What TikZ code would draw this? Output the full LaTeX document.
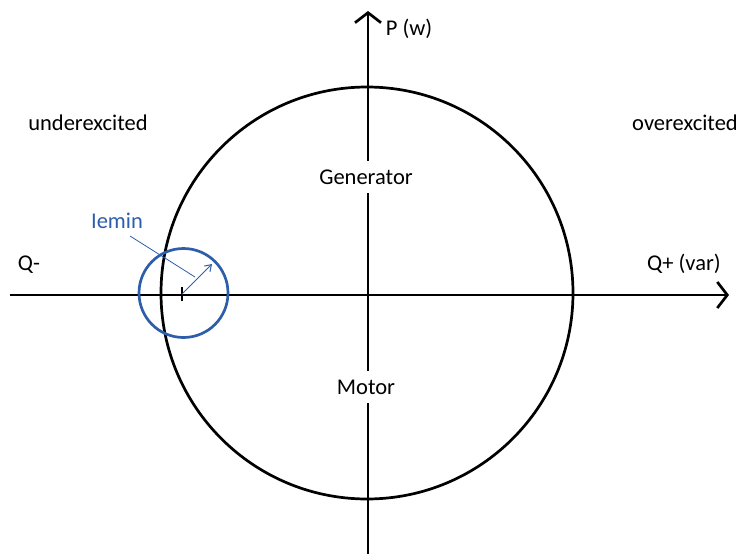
\documentclass[tikz,border=0pt]{standalone}
\usepackage{fontspec}
\setmainfont{Carlito}
\usetikzlibrary{arrows.meta}
\definecolor{iblue}{RGB}{46,94,170}
\begin{document}
\begin{tikzpicture}[x=1pt,y=-1pt,
  lbl/.style={font=\fontsize{22.5}{26}\selectfont, inner sep=1pt},
  gap/.style={fill=white, inner xsep=2pt, inner ysep=9pt},
  axis/.style={line width=2.7pt, -{Straight Barb[length=10pt,width=26pt,line width=2.7pt]}},
  ring/.style={line width=2.7pt}]
\useasboundingbox (0,0) rectangle (748,554);
\coordinate (O) at (368,295);
\coordinate (L) at (10,295);
\coordinate (R) at (729,295);
\coordinate (B) at (368,554);
\coordinate (T) at (368,11);
\draw[axis] (L) -- (R);
\draw[axis] (B) -- (T);
\node[ring, draw, circle, minimum size=412pt, inner sep=0pt] (big) at (367,293) {};
\node[ring, draw=iblue, circle, minimum size=89pt, inner sep=0pt] (small) at (183.5,293) {};
\coordinate (c) at (182,294);
\coordinate (tip) at (212,264);
\draw[line width=1.3pt] (182,287) -- (182,301);
\draw[iblue, line width=1pt, -{Straight Barb[length=6pt,width=8pt]}] (c) -- (tip);
\node[lbl, gap] (gen) at (366,177) {Generator};
\node[lbl, gap] (mot) at (366,387) {Motor};
\node[lbl] (p) at (409,29) {P (w)};
\node[lbl] (qp) at (684,264) {Q+ (var)};
\node[lbl] (qm) at (29,265) {Q-};
\node[lbl] (under) at (88,123) {underexcited};
\node[lbl] (over) at (685,123) {overexcited};
\node[lbl, text=iblue] (iemin) at (117,221) {Iemin};
\coordinate (lend) at (195,277);
\draw[iblue, line width=0.8pt] (130,236) -- (lend);
\end{tikzpicture}
\end{document}
